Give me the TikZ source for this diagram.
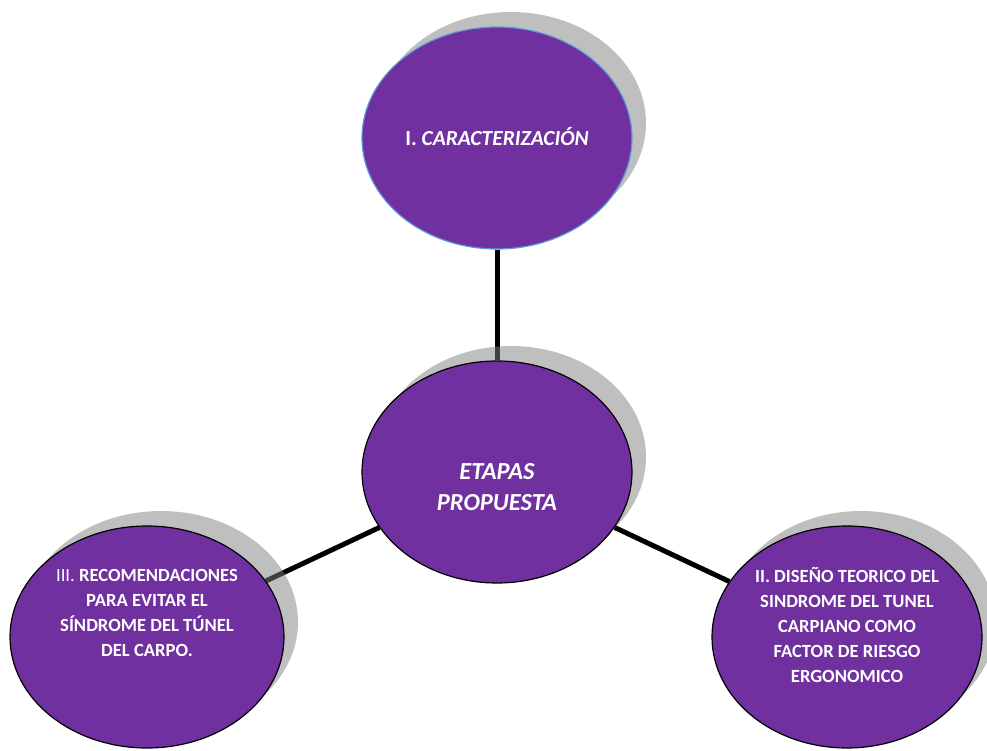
\documentclass[tikz,border=0pt]{standalone}
\usepackage{fontspec}
\setmainfont{Carlito}
\usetikzlibrary{shapes.geometric,shadows,backgrounds}
\definecolor{ofpurple}{HTML}{7030A0}
\definecolor{edgeblue}{HTML}{5B9BD5}
\tikzset{
  stage/.style={ellipse, fill=ofpurple, draw=black, line width=1.2pt,
    minimum width=270pt, minimum height=222pt, inner sep=0pt,
    drop shadow={shadow xshift=14pt, shadow yshift=15pt, fill=black!50, opacity=0.5}},
  txt/.style={text=white, align=center, font=\fontsize{18.6}{25}\selectfont\bfseries},
  conn/.style={line width=5pt, black}
}
\begin{document}
\begin{tikzpicture}[x=1pt,y=1pt]
\useasboundingbox (0,0) rectangle (987,750);
\clip (0,0) rectangle (987,750);
\node[stage, draw=edgeblue] (top) at (497,612) {};
\node[stage] (mid) at (497,278) {};
\node[stage, minimum width=274pt] (left) at (147,113) {};
\node[stage] (right) at (847,113) {};
\begin{pgfonlayer}{background}
\draw[conn] (top) -- (mid);
\draw[conn] (mid) -- (left);
\draw[conn] (mid) -- (right);
\end{pgfonlayer}
\node[txt, font=\fontsize{21.5}{26}\selectfont\bfseries] (toptext) at (497,613) {I. \textit{CARACTERIZACIÓN}};
\node[txt, font=\fontsize{24.5}{31}\selectfont\bfseries\itshape] (midtext) at (497,263) {ETAPAS\\PROPUESTA};
\node[txt] (lefttext) at (147,137) {{\mdseries III.} RECOMENDACIONES\\PARA EVITAR EL\\SÍNDROME DEL TÚNEL\\DEL CARPO.};
\node[txt] (righttext) at (847,125) {II. DISEÑO TEORICO DEL\\SINDROME DEL TUNEL\\CARPIANO COMO\\FACTOR DE RIESGO\\ERGONOMICO};
\end{tikzpicture}
\end{document}
